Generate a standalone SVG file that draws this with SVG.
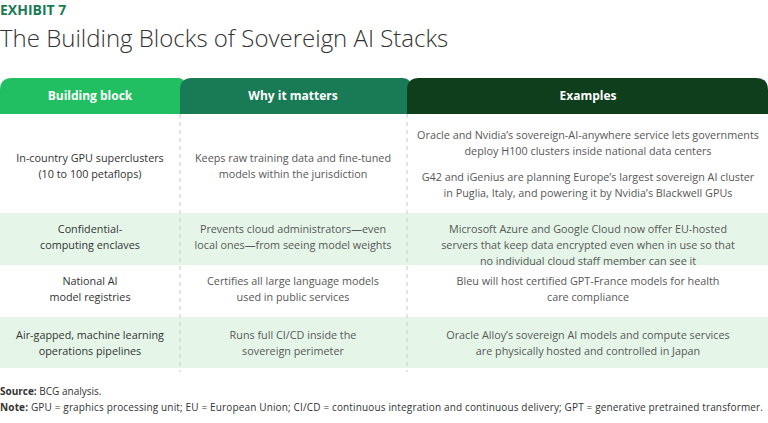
<svg xmlns="http://www.w3.org/2000/svg" width="768" height="423" viewBox="0 0 768 423">
<style>
text{font-family:"Open Sans","Liberation Sans",sans-serif}
.h{font-size:12px;font-weight:700;fill:#fff;text-anchor:middle}
.c{font-size:10.8px;fill:#575757;text-anchor:middle}
.b{font-size:10.8px;fill:#333;text-anchor:middle}
.d{stroke:#c8c8c8;stroke-width:1;stroke-dasharray:4 4}
.n{font-size:10px;fill:#333}
</style>
<rect width="768" height="423" fill="#fff"/>
<text x="0" y="15" style="font-size:14px;font-weight:700;fill:#197a56">EXHIBIT 7</text>
<text x="0" y="47" style="font-size:24px;font-weight:300;fill:#333">The Building Blocks of Sovereign AI Stacks</text>
<g id="rows">
<rect x="0" y="213" width="768" height="52" fill="#e5f6e9"/>
<rect x="0" y="317" width="768" height="51" fill="#e5f6e9"/>
</g>
<g id="header">
<path d="M0,114 V90 Q0,78 12,78 H178 Q186,78 186,90 V114 Z" fill="#21bf61"/>
<path d="M180,114 V90 Q180,78 192,78 H402 Q412,78 412,90 V114 Z" fill="#197a56"/>
<path d="M407,114 V90 Q407,78 419,78 H756 Q768,78 768,90 V114 Z" fill="#0e3e1b"/>
<text class="h" x="90" y="100">Building block</text>
<text class="h" x="293" y="100">Why it matters</text>
<text class="h" x="588" y="100">Examples</text>
</g>
<g id="connectors">
<line class="d" x1="180" y1="114" x2="180" y2="372"/>
<line class="d" x1="407" y1="114" x2="407" y2="372"/>
</g>
<g id="row1">
<text class="b" x="90" y="162">In-country GPU superclusters</text>
<text class="b" x="90" y="178">(10 to 100 petaflops)</text>
<text class="c" x="293" y="162">Keeps raw training data and fine-tuned</text>
<text class="c" x="293" y="178">models within the jurisdiction</text>
<text class="c" x="588" y="139">Oracle and Nvidia’s sovereign-AI-anywhere service lets governments</text>
<text class="c" x="588" y="155">deploy H100 clusters inside national data centers</text>
<text class="c" x="588" y="181">G42 and iGenius are planning Europe’s largest sovereign AI cluster</text>
<text class="c" x="588" y="197">in Puglia, Italy, and powering it by Nvidia’s Blackwell GPUs</text>
</g>
<g id="row2">
<text class="b" x="90" y="233">Confidential-</text>
<text class="b" x="90" y="249">computing enclaves</text>
<text class="c" x="293" y="233">Prevents cloud administrators—even</text>
<text class="c" x="293" y="249">local ones—from seeing model weights</text>
<text class="c" x="588" y="233">Microsoft Azure and Google Cloud now offer EU-hosted</text>
<text class="c" x="588" y="249">servers that keep data encrypted even when in use so that</text>
<text class="c" x="588" y="265">no individual cloud staff member can see it</text>
</g>
<g id="row3">
<text class="b" x="90" y="285">National AI</text>
<text class="b" x="90" y="301">model registries</text>
<text class="c" x="293" y="285">Certifies all large language models</text>
<text class="c" x="293" y="301">used in public services</text>
<text class="c" x="588" y="285">Bleu will host certified GPT-France models for health</text>
<text class="c" x="588" y="301">care compliance</text>
</g>
<g id="row4">
<text class="b" x="90" y="339">Air-gapped, machine learning</text>
<text class="b" x="90" y="355">operations pipelines</text>
<text class="c" x="293" y="339">Runs full CI/CD inside the</text>
<text class="c" x="293" y="355">sovereign perimeter</text>
<text class="c" x="588" y="339">Oracle Alloy’s sovereign AI models and compute services</text>
<text class="c" x="588" y="355">are physically hosted and controlled in Japan</text>
</g>
<text class="n" x="0" y="395"><tspan font-weight="700">Source:</tspan>  BCG analysis.</text>
<text class="n" x="0" y="411" textLength="763"><tspan font-weight="700">Note:</tspan> GPU = graphics processing unit; EU = European Union; CI/CD = continuous integration and continuous delivery; GPT = generative pretrained transformer.</text>
</svg>
